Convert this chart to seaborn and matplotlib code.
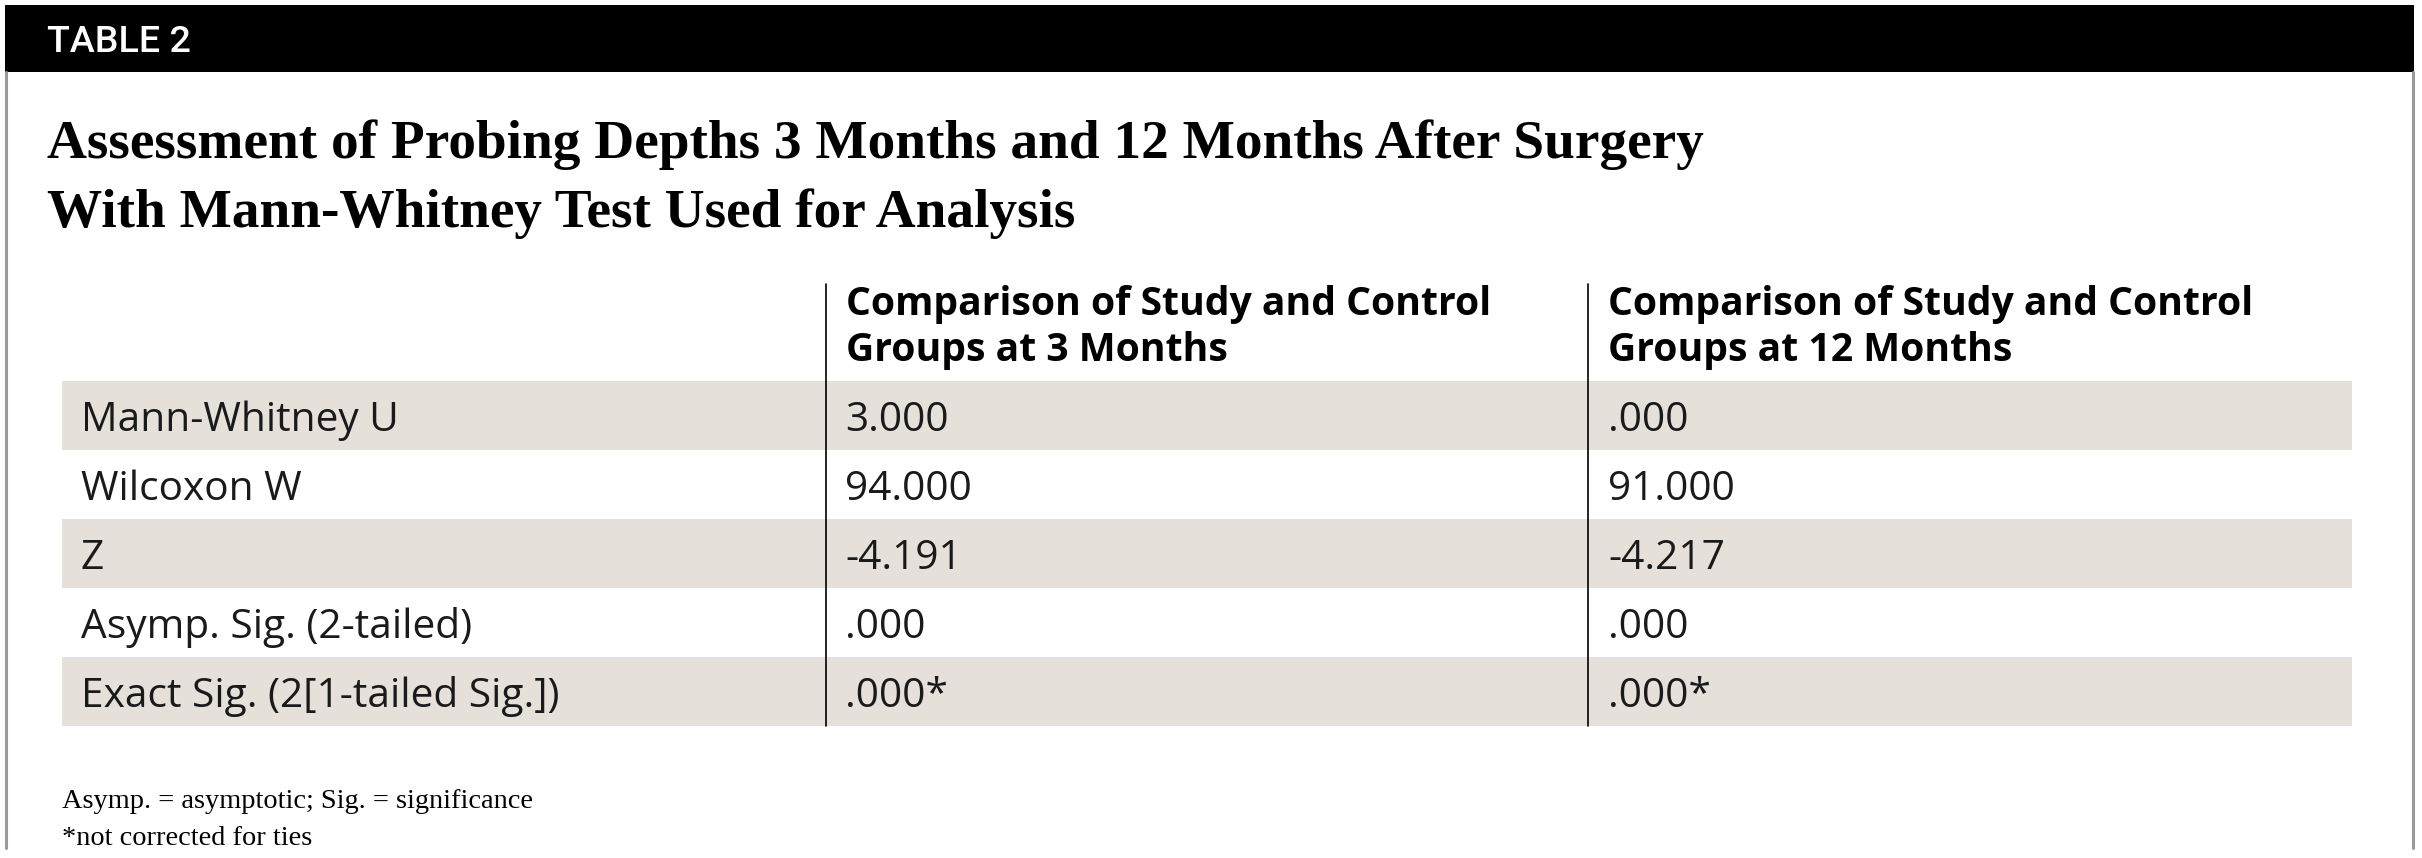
import matplotlib
matplotlib.use("Agg")
import matplotlib.pyplot as plt
import seaborn as sns

# table content
table_tag = "TABLE 2"
title_lines = ["Assessment of Probing Depths 3 Months and 12 Months After Surgery",
               "With Mann-Whitney Test Used for Analysis"]
col_headers = [["Comparison of Study and Control", "Groups at 3 Months"],
               ["Comparison of Study and Control", "Groups at 12 Months"]]
row_labels = ["Mann-Whitney U", "Wilcoxon W", "Z",
              "Asymp. Sig. (2-tailed)", "Exact Sig. (2[1-tailed Sig.])"]
vals_3m = ["3.000", "94.000", "-4.191", ".000", ".000*"]
vals_12m = [".000", "91.000", "-4.217", ".000", ".000*"]
footnotes = ["Asymp. = asymptotic; Sig. = significance", "*not corrected for ties"]

W, H = 2422, 858
sns.set_theme(style="white")
plt.rcParams['font.family'] = ['DejaVu Sans']

fig = plt.figure(figsize=(W / 100, H / 100), dpi=100)
ax = fig.add_axes([0, 0, 1, 1])
ax.set_xlim(0, W)
ax.set_ylim(H, 0)
ax.axis("off")
renderer = fig.canvas.get_renderer()


def fit_size(text, width_px, **kw):
    t = ax.text(0, 0, text, fontsize=20, **kw)
    w = t.get_window_extent(renderer).width
    t.remove()
    return 20 * width_px / w


band = "#e6e0da"
serif = "Liberation Serif"
sans = "Open Sans"

# frame: black tag bar and grey side borders
ax.fill_between([5, 2414], 5, 72, color="black", lw=0)
ax.plot([6, 6], [72, 848], color="#9a9a9a", lw=2.2)
ax.plot([2413, 2413], [72, 848], color="#9a9a9a", lw=2.2)
ax.text(47, 52, table_tag, color="white", va="baseline", fontweight="medium",
        family="Roboto", fontsize=fit_size(table_tag, 143, family="Roboto", fontweight="medium"))

# title
ts = fit_size(title_lines[0], 1654, family=serif, fontweight="bold")
for i, line in enumerate(title_lines):
    ax.text(47, 158 + i * 69, line, family=serif, fontweight="bold",
            fontsize=ts, va="baseline", color="black")

# row bands
left, right, top, rh = 62, 2352, 381, 69
for i, lab in enumerate(row_labels):
    if i % 2 == 0:
        ax.barh(top + rh * i + rh / 2, right - left, left=left, height=rh,
                color=band, lw=0)

# column separators
col_x = [826, 1588]
for x in col_x:
    ax.plot([x, x], [284, top + rh * len(row_labels)], color="black", lw=1.2)

# headers
hs = fit_size(col_headers[0][0], 645, family=sans, fontweight="bold")
for cx, hdr in zip(col_x, col_headers):
    for j, line in enumerate(hdr):
        ax.text(cx + 20, 315 + j * 46, line, family=sans, fontweight="bold",
                fontsize=hs, va="baseline", color="black")

# body
bs = fit_size(row_labels[0], 317, family=sans)
for i in range(len(row_labels)):
    yb = top + rh * i + 50
    ax.text(81, yb, row_labels[i], family=sans, fontsize=bs, va="baseline", color="#1a1a1a")
    ax.text(col_x[0] + 19, yb, vals_3m[i], family=sans, fontsize=bs, va="baseline", color="#1a1a1a")
    ax.text(col_x[1] + 20, yb, vals_12m[i], family=sans, fontsize=bs, va="baseline", color="#1a1a1a")

# footnotes
fs = fit_size(footnotes[0], 471, family=serif)
for i, line in enumerate(footnotes):
    ax.text(62, 808 + i * 37, line, family=serif, fontsize=fs, va="baseline", color="black")

fig.savefig("out.png", dpi=100)
